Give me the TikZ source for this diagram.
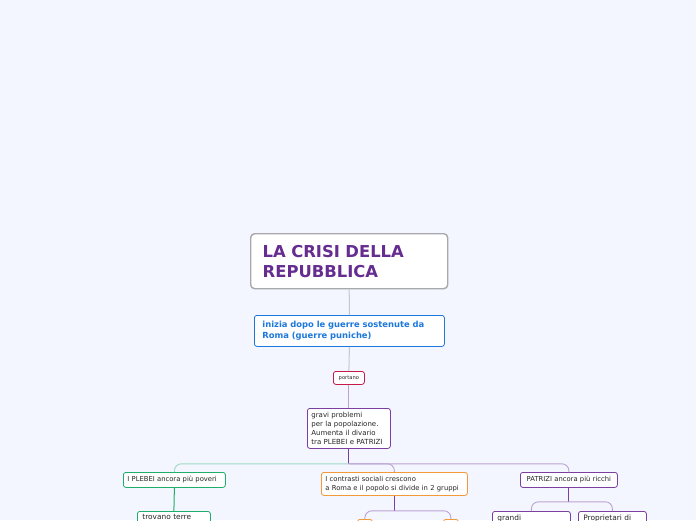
\documentclass[tikz,border=0pt]{standalone}
\usepackage{fontspec}
\setmainfont{DejaVu Sans}
\usetikzlibrary{positioning}
\definecolor{bgblue}{HTML}{F3F6FE}
\definecolor{titlepurple}{HTML}{662D91}
\definecolor{titlegray}{HTML}{A8A8AC}
\definecolor{romeblue}{HTML}{1C78DC}
\definecolor{crimson}{HTML}{C8194B}
\definecolor{darkpurple}{HTML}{7B3FA0}
\definecolor{lightpurple}{HTML}{BBA3D6}
\definecolor{plebgreen}{HTML}{1FAE6A}
\definecolor{lightgreen}{HTML}{9ED9C3}
\definecolor{contrastorange}{HTML}{F29A3A}
\definecolor{linkgray}{HTML}{C4C6D0}
\tikzset{
  basic/.style   = {draw, rounded corners=2.5pt, fill=white, anchor=north west, align=left, line width=0.8pt, text=black!85},
  root/.style    = {basic, draw=titlegray, line width=1.4pt, rounded corners=4pt, text=titlepurple,
                    font=\bfseries\fontsize{16.4}{20}\selectfont, inner xsep=12pt, text width=173pt, minimum height=55pt},
  level 1/.style = {basic, draw=romeblue, text=romeblue, font=\bfseries\fontsize{8.4}{11}\selectfont,
                    inner xsep=8pt, text width=174pt, minimum height=31pt},
  tag/.style     = {basic, draw=crimson, font=\fontsize{5.2}{6}\selectfont, align=center,
                    inner sep=0pt, minimum width=31pt, minimum height=13pt},
  level 2/.style = {basic, draw=darkpurple, font=\fontsize{7}{9.3}\selectfont,
                    inner xsep=4pt, text width=75pt, minimum height=40pt},
  level 3/.style = {basic, font=\fontsize{6.8}{9}\selectfont, inner xsep=4pt, inner ysep=0pt, minimum height=15pt},
  level 4/.style = {basic, font=\fontsize{7.4}{9}\selectfont, inner xsep=5pt, inner ysep=3pt, text depth=6pt},
  link/.style    = {line width=0.9pt, rounded corners=7pt}
}

\begin{document}
\begin{tikzpicture}[x=1pt, y=-1pt]

% background and page size
\fill[bgblue] (0,0) rectangle (696,520);
\useasboundingbox (0,0) rectangle (696,520);

% central topic and the chain below it
\node[root] (crisi) at (250,233) {LA CRISI DELLA\\REPUBBLICA};
\node[level 1] (inizio) at (254,315) {inizia dopo le guerre sostenute da\\Roma (guerre puniche)};
\node[tag] (portano) at (333,371) {portano};
\node[level 2] (problemi) at (307,408) {gravi problemi\\per la popolazione.\\Aumenta il divario\\tra PLEBEI e PATRIZI};

% the three branches
\node[level 3, draw=plebgreen, text width=94pt] (plebei) at (123,472) {I PLEBEI ancora più poveri};
\node[level 3, draw=contrastorange, text width=138pt, minimum height=23pt] (contrasti) at (321,472)
  {I contrasti sociali crescono\\a Roma e il popolo si divide in 2 gruppi};
\node[level 3, draw=darkpurple, text width=89pt, align=center] (patrizi) at (520,472) {PATRIZI ancora più ricchi};

% the nodes cut by the lower edge
\node[level 4, draw=plebgreen, text width=63pt] (terre) at (137,511) {trovano terre};
\node[level 4, draw=darkpurple, text width=68pt] (grandi) at (492,511) {grandi};
\node[level 4, draw=darkpurple, text width=58pt] (proprietari) at (578,511) {Proprietari di};
\node[basic, draw=contrastorange, minimum width=15pt, minimum height=10pt, inner sep=0pt] (gruppo1) at (357,519) {};
\node[basic, draw=contrastorange, minimum width=15pt, minimum height=10pt, inner sep=0pt] (gruppo2) at (443,519) {};

% lines of the chain
\draw[linkgray, line width=1pt] (crisi.south) -- (inizio.north);
\draw[linkgray, line width=1pt] (inizio.south) -- (portano.north);
\draw[lightpurple, line width=1pt] (portano.south) -- (problemi.north);

% lines from each node to its children
\draw[darkpurple, line width=1pt] (problemi.south) -- ++(0,15) coordinate (p0);
\draw[link, lightgreen] (p0) -| (plebei.north);
\draw[link, lightpurple] (p0) -| (contrasti.north);
\draw[link, lightpurple] (p0) -| (patrizi.north);

\draw[plebgreen, line width=1pt] (plebei.south) -- (terre.north);

\draw[darkpurple, line width=1pt] (contrasti.south) -- ++(0,15) coordinate (c0);
\draw[link, lightpurple] (c0) -| (gruppo1.north);
\draw[link, lightpurple] (c0) -| (gruppo2.north);

\draw[darkpurple, line width=1pt] (patrizi.south) -- ++(0,14) coordinate (t0);
\draw[link, lightpurple] (t0) -| (grandi.north);
\draw[link, lightpurple] (t0) -| (proprietari.north);
\end{tikzpicture}
\end{document}
